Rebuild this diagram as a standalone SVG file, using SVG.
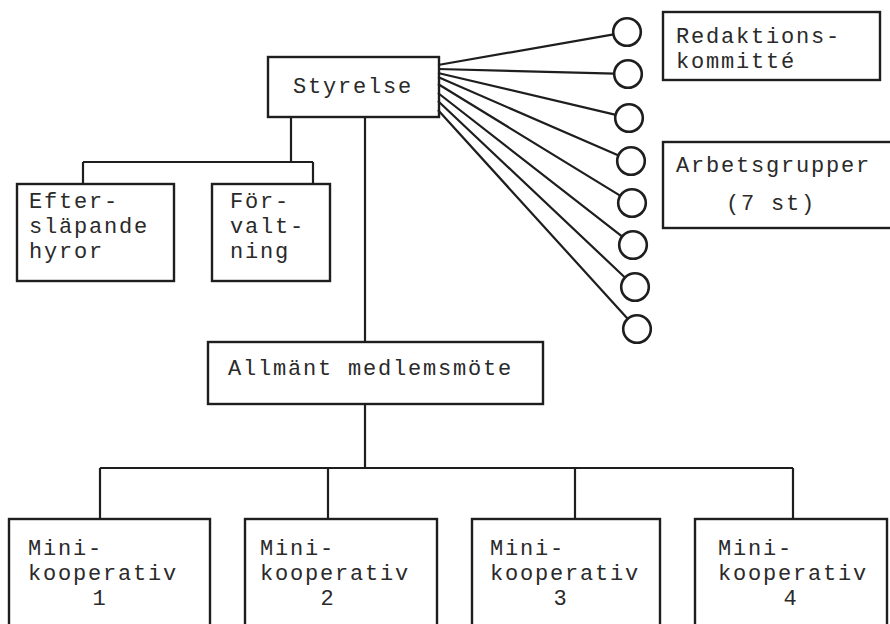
<svg xmlns="http://www.w3.org/2000/svg" width="890" height="624" viewBox="0 0 890 624">
<style>
.box{fill:none;stroke:#1e1e1e;stroke-width:2.4}
.ln{fill:none;stroke:#1e1e1e;stroke-width:2.2}
.ci{fill:none;stroke:#1e1e1e;stroke-width:2.6}
text{font-family:"Liberation Mono","Courier New",monospace;font-size:22px;letter-spacing:1.8px;fill:#2a2a2a}
</style>
<rect width="890" height="624" fill="#ffffff"/>
<g id="connectors">
<path class="ln" d="M291 117V162M83 162H313M83 162V184M313 162V185"/>
<path class="ln" d="M365 117V342"/>
<path class="ln" d="M365 404V468M100 468H793M100 468V519M328 468V519M575 468V519M793 468V519"/>
<path class="ln" d="M438 65L613.7 34.3M438 69L614.5 73.6M438 73L615.9 114.9M438 77L618.6 155.6M438 84L620.5 195.9M438 93L622.3 236.7M438 101L625.2 277.7M438 110L627.9 319"/>
</g>
<g id="styrelse"><rect class="box" x="268" y="57" width="171" height="60"/><text x="293" y="93">Styrelse</text></g>
<g id="circles">
<circle class="ci" cx="627" cy="32" r="13.8"/>
<circle class="ci" cx="628" cy="74" r="13.8"/>
<circle class="ci" cx="629" cy="118" r="13.8"/>
<circle class="ci" cx="631" cy="161" r="13.8"/>
<circle class="ci" cx="632" cy="203" r="13.8"/>
<circle class="ci" cx="633" cy="245" r="13.8"/>
<circle class="ci" cx="635" cy="287" r="13.8"/>
<circle class="ci" cx="637" cy="329" r="13.8"/>
</g>
<g id="redaktion"><rect class="box" x="663" y="12" width="217" height="68"/><text x="676" y="43">Redaktions-</text><text x="676" y="68">kommitté</text></g>
<g id="arbetsgrupper"><rect class="box" x="663" y="142" width="240" height="86"/><text x="676" y="172">Arbetsgrupper</text><text x="726" y="210">(7 st)</text></g>
<g id="efter"><rect class="box" x="17" y="184" width="157" height="97"/><text x="29" y="208">Efter-</text><text x="29" y="233">släpande</text><text x="29" y="258">hyror</text></g>
<g id="forvaltning"><rect class="box" x="212" y="184" width="118" height="97"/><text x="230" y="208">För-</text><text x="230" y="233">valt-</text><text x="230" y="258">ning</text></g>
<g id="allmant"><rect class="box" x="208" y="342" width="335" height="62"/><text x="228" y="375">Allmänt medlemsmöte</text></g>
<g id="mini1"><rect class="box" x="9" y="519" width="201" height="130"/><text x="28" y="555">Mini-</text><text x="28" y="580">kooperativ</text><text x="100" y="605" text-anchor="middle">1</text></g>
<g id="mini2"><rect class="box" x="245" y="519" width="192" height="130"/><text x="260" y="555">Mini-</text><text x="260" y="580">kooperativ</text><text x="328" y="605" text-anchor="middle">2</text></g>
<g id="mini3"><rect class="box" x="472" y="519" width="188" height="130"/><text x="490" y="555">Mini-</text><text x="490" y="580">kooperativ</text><text x="561" y="605" text-anchor="middle">3</text></g>
<g id="mini4"><rect class="box" x="695" y="519" width="192" height="130"/><text x="718" y="555">Mini-</text><text x="718" y="580">kooperativ</text><text x="791" y="605" text-anchor="middle">4</text></g>
</svg>
